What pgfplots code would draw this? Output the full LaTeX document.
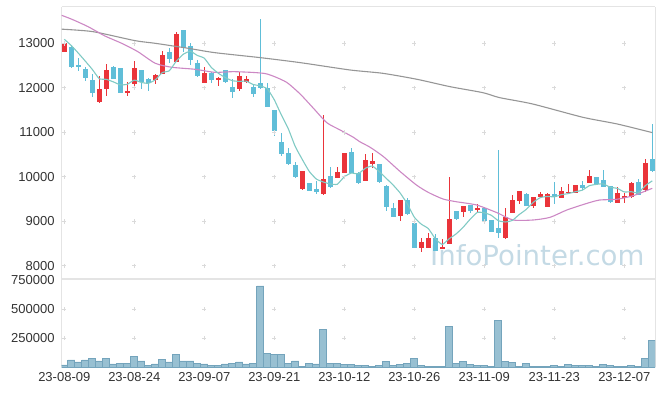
\documentclass[border=0pt]{standalone}
\usepackage{fontspec}
\setmainfont{Liberation Sans}
\newfontfamily\wmfont{DejaVu Sans}
\usepackage{pgfplots}
\pgfplotsset{compat=1.18}
\usepackage{pgfplotstable}
\definecolor{cred}{RGB}{234,52,58}
\definecolor{cblue}{RGB}{96,190,216}
\definecolor{maA}{RGB}{128,202,196}
\definecolor{maB}{RGB}{204,136,196}
\definecolor{maC}{RGB}{150,150,150}
\definecolor{volfill}{RGB}{152,192,210}
\definecolor{voledge}{RGB}{116,164,188}
\definecolor{framec}{RGB}{228,228,228}
\definecolor{crossc}{RGB}{218,218,218}
\definecolor{wmc}{RGB}{196,218,229}
\definecolor{labc}{RGB}{51,51,51}

\pgfplotstableread{
i O H L C
0 12810 13040 12800 13010
5 11689 12266 11667 11966
6 11966 12528 11817 12401
9 11891 12139 11817 11936
10 12079 12603 12041 12438
13 12176 12311 12086 12288
14 12311 12828 12303 12738
16 12588 13255 12580 13210
20 12116 12461 12110 12341
22 12184 12235 12041 12229
25 11974 12356 11929 12266
26 12139 12266 12116 12199
34 9719 10140 9710 10131
37 9607 11390 9600 9944
39 9981 10214 9975 10101
40 10079 10530 10075 10528
43 9914 10513 9910 10379
44 10289 10543 10191 10356
48 9127 9480 9008 9479
51 8394 8618 8304 8543
52 8394 8746 8390 8618
54 8379 8603 8375 8431
55 8491 10004 8485 9053
57 9217 9350 9105 9345
59 9255 9390 9180 9307
63 8618 9292 8610 9090
64 9195 9592 9190 9479
65 9457 9685 9390 9682
67 9345 9554 9292 9539
68 9554 9652 9539 9614
69 9330 9644 9325 9614
71 9532 9779 9525 9682
72 9629 9839 9614 9667
73 9644 9820 9640 9817
75 9869 10154 9865 10019
79 9420 9764 9415 9629
80 9532 9644 9420 9577
81 9539 9892 9535 9869
83 9704 10394 9667 10304
}\redtab

\pgfplotstableread{
i O H L C
1 12925 12930 12450 12476
2 12513 12663 12386 12476
3 12416 12476 12154 12229
4 12176 12311 11787 11877
7 12468 12490 12190 12199
8 12438 12440 11877 11891
11 12401 12410 11966 12139
12 12199 12214 11936 12101
15 12813 12888 12551 12648
17 13300 13310 12813 12888
18 12940 13000 12513 12626
19 12551 12626 12251 12266
21 12341 12360 12116 12176
23 12401 12401 12101 12139
24 12011 12191 11764 11914
27 12011 12064 11802 11854
28 12101 13539 11974 11989
29 11989 12101 11570 11577
30 11502 11510 10918 11038
31 10775 10978 10468 10513
32 10528 10641 10275 10281
33 10266 10341 9981 9989
35 9862 9865 9680 9689
36 9727 9914 9614 9667
38 10019 10214 9760 9764
41 10551 10641 10075 10079
42 10094 10100 9839 9869
45 10289 10295 9869 9892
46 9802 9810 9232 9330
47 9292 9420 9100 9105
49 9479 9517 9150 9157
50 8955 8960 8390 8394
53 8618 8716 8335 8341
56 9232 9240 9030 9053
58 9367 9370 9195 9240
60 9292 9295 8955 9015
61 9030 9035 8760 8768
62 8843 10603 8618 8746
66 9614 9644 9340 9345
70 9614 9892 9390 9539
74 9817 9914 9704 9757
76 9989 9995 9817 9832
77 9929 10154 9775 9779
78 9794 9800 9420 9442
82 9877 9951 9585 9592
84 10394 11180 10116 10139
}\bluetab

\pgfplotstableread{
i V
0 20000
1 63000
2 46000
3 63000
4 78000
5 55000
6 78000
7 29000
8 34000
9 34000
10 95000
11 55000
12 17000
13 29000
14 69000
15 46000
16 112000
17 55000
18 55000
19 34000
20 29000
21 17000
22 17000
23 29000
24 34000
25 46000
26 29000
27 34000
28 701000
29 121000
30 112000
31 112000
32 34000
33 55000
34 9000
35 34000
36 29000
37 328000
38 34000
39 32000
40 26000
41 26000
42 17000
43 17000
44 9000
45 17000
46 52000
47 17000
48 26000
49 34000
50 78000
51 17000
52 9000
53 9000
54 9000
55 351000
56 34000
57 52000
58 26000
59 17000
60 17000
61 9000
62 402000
63 52000
64 43000
65 9000
66 34000
67 9000
68 9000
69 9000
70 17000
71 9000
72 26000
73 17000
74 17000
75 17000
76 9000
77 26000
78 17000
79 9000
80 9000
81 17000
82 9000
83 78000
84 233000
}\voltab

\pgfplotsset{
  wick/.style={forget plot, draw=none, mark=none,
    error bars/.cd, y dir=both, y explicit, error mark=none,
    error bar style={draw=#1, solid, line width=1pt}},
  body/.style={forget plot, draw=none, mark=none,
    error bars/.cd, y dir=both, y explicit, error mark=none,
    error bar style={draw=#1, solid, line width=5pt}},
  common/.style={
    scale only axis, width=593.3pt,
    xmin=-0.37, xmax=84.39,
    major tick length=0pt,
    scaled x ticks=false, scaled y ticks=false,
    separate axis lines,
    y axis line style={draw=framec, line width=1pt},
    tick label style={font=\fontsize{13}{13}\selectfont, text=labc},
    yticklabel style={inner sep=0pt, anchor=east, xshift=-7pt},
  },
}

\begin{document}
\begin{tikzpicture}
\useasboundingbox (0,0) rectangle (665pt,396pt);
\node[anchor=base west, inner sep=0pt, text=wmc, font=\wmfont\fontsize{27.6}{27.6}\selectfont] at (430pt,130pt) {InfoPointer.com};

% price panel
\begin{axis}[common,
  at={(61.7pt,117pt)}, anchor=south west, height=272pt,
  ymin=7704, ymax=13816,
  xtick=\empty,
  ytick={8000,9000,...,13000},
  yticklabels={8000,9000,10000,11000,12000,13000},
  x axis line style={draw=framec, line width=1pt},
]
\addplot[only marks, mark=+, mark size=2.2pt, crossc, line width=0.7pt, forget plot] coordinates {
(0,8000)(10,8000)(20,8000)(30,8000)(40,8000)(50,8000)(60,8000)(70,8000)(80,8000)
(0,9000)(10,9000)(20,9000)(30,9000)(40,9000)(50,9000)(60,9000)(70,9000)(80,9000)
(0,10000)(10,10000)(20,10000)(30,10000)(40,10000)(50,10000)(60,10000)(70,10000)(80,10000)
(0,11000)(10,11000)(20,11000)(30,11000)(40,11000)(50,11000)(60,11000)(70,11000)(80,11000)
(0,12000)(10,12000)(20,12000)(30,12000)(40,12000)(50,12000)(60,12000)(70,12000)(80,12000)
(0,13000)(10,13000)(20,13000)(30,13000)(40,13000)(50,13000)(60,13000)(70,13000)(80,13000)
};
\addplot[wick=cred] table[x=i, y expr={(\thisrow{H}+\thisrow{L})/2}, y error expr={(\thisrow{H}-\thisrow{L})/2}] {\redtab};
\addplot[body=cred] table[x=i, y expr={(\thisrow{O}+\thisrow{C})/2}, y error expr={abs(\thisrow{O}-\thisrow{C})/2}] {\redtab};
\addplot[wick=cblue] table[x=i, y expr={(\thisrow{H}+\thisrow{L})/2}, y error expr={(\thisrow{H}-\thisrow{L})/2}] {\bluetab};
\addplot[body=cblue] table[x=i, y expr={(\thisrow{O}+\thisrow{C})/2}, y error expr={abs(\thisrow{O}-\thisrow{C})/2}] {\bluetab};

% long moving average
\addplot[maC, line width=1.1pt, smooth, tension=0.4, mark=none] coordinates {
(-0.4,13318)(4.1,13262)(10.1,13060)(13,13000)(17.7,12888)(21.5,12790)(28,12678)(33.7,12566)(40.8,12401)(45.5,12326)(50.4,12191)(55.1,12026)(59.8,11891)(62.2,11779)(66.9,11637)(74.1,11337)(79,11187)(84,10993)
};
% 20-day
\addplot[maB, line width=1.1pt, smooth, tension=0.4, mark=none] coordinates {
(-0.4,13630)(1.1,13539)(3.4,13374)(5.8,13165)(8.2,13000)(10.5,12813)(13,12551)(15.4,12461)(18.7,12416)(21.5,12348)(24.1,12363)(27,12345)(28.7,12320)(29.9,12260)(31.8,12120)(33.7,11860)(35.6,11539)(37.5,11217)(39.4,11053)(41.3,10888)(42.2,10790)(43.7,10663)(45.6,10453)(48,10116)(50.3,9817)(52,9650)(54.1,9502)(56,9440)(58.9,9367)(61.8,9195)(64.1,9030)(67,9030)(69.4,9090)(71.8,9255)(74.7,9405)(76.5,9479)(78.9,9495)(81.3,9577)(84,9742)
};
% 5-day
\addplot[maA, line width=1.1pt, smooth, tension=0.3, mark=none] coordinates {
(0,13090)(1,12950)(2,12780)(3,12600)(4,12414)(5,12205)(6,12190)(7,12134)(8,12067)(9,12079)(10,12173)(11,12121)(12,12101)(13,12180)(14,12341)(15,12383)(16,12597)(17,12754)(18,12822)(19,12728)(20,12666)(21,12459)(22,12328)(23,12230)(24,12160)(25,12145)(26,12149)(27,12074)(28,12044)(29,11977)(30,11731)(31,11394)(32,11080)(33,10680)(34,10390)(35,10121)(36,9951)(37,9884)(38,9839)(39,9833)(40,10001)(41,10083)(42,10068)(43,10191)(44,10242)(45,10115)(46,9965)(47,9812)(48,9632)(49,9393)(50,9093)(51,8936)(52,8838)(53,8611)(54,8480)(55,8610)(56,8720)(57,8870)(58,9050)(59,9200)(60,9192)(61,9135)(62,9015)(63,8985)(64,9020)(65,9153)(66,9268)(67,9427)(68,9532)(69,9559)(70,9550)(71,9598)(72,9623)(73,9664)(74,9700)(75,9800)(76,9830)(77,9841)(78,9766)(79,9740)(80,9660)(81,9665)(82,9640)(83,9800)(84,9910)
};
\end{axis}

% volume panel
\begin{axis}[common,
  at={(61.7pt,28.7pt)}, anchor=south west, height=88.3pt,
  ymin=0, ymax=761000,
  xtick={0,10,...,80},
  xticklabels={23-08-09,23-08-24,23-09-07,23-09-21,23-10-12,23-10-26,23-11-09,23-11-23,23-12-07},
  xticklabel style={inner sep=0pt, anchor=north, yshift=-4.7pt},
  ytick={250000,500000,750000},
  yticklabels={250000,500000,750000},
  x axis line style={draw=none},
]
\addplot[only marks, mark=+, mark size=2.2pt, crossc, line width=0.7pt, forget plot] coordinates {
(0,250000)(10,250000)(20,250000)(30,250000)(40,250000)(50,250000)(60,250000)(70,250000)(80,250000)
(0,500000)(10,500000)(20,500000)(30,500000)(40,500000)(50,500000)(60,500000)(70,500000)(80,500000)
};
\addplot[ybar, bar width=1, bar shift=0pt, fill=volfill, draw=voledge, line width=0.6pt] table[x=i, y=V] {\voltab};
\draw[framec, line width=2pt] (rel axis cs:0,1) -- (rel axis cs:1,1);
\end{axis}
\end{tikzpicture}
\end{document}
